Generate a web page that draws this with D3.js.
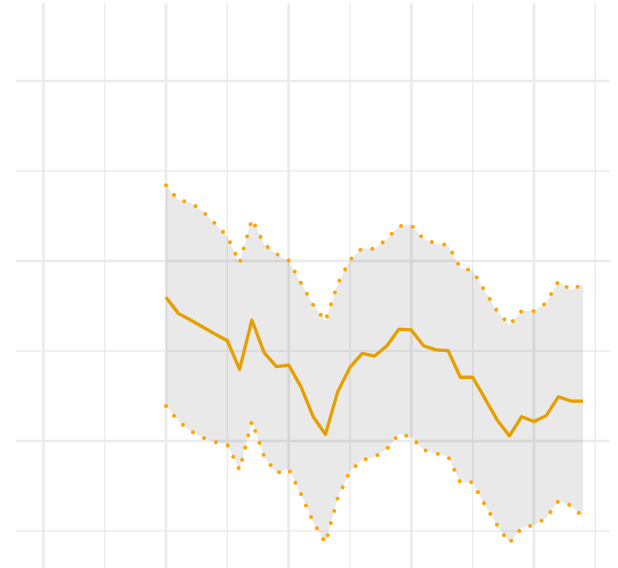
<!DOCTYPE html>
<html>
<head>
<meta charset="utf-8">
<script src="https://cdn.jsdelivr.net/npm/d3@7"></script>
<style>
  html, body { margin: 0; padding: 0; background: #fff; }
  svg { display: block; }
</style>
</head>
<body>
<svg id="chart" width="618" height="568"></svg>
<script>
// ---- data ----
const years = d3.range(2000, 2035);
const estimate = [1.798,1.709,1.672,1.633,1.594,1.557,1.398,1.672,1.491,1.413,1.422,1.302,1.135,1.037,1.274,1.409,1.487,1.472,1.528,1.622,1.617,1.529,1.506,1.502,1.354,1.354,1.237,1.117,1.028,1.135,1.108,1.141,1.246,1.222,1.222];
const upper = [2.421,2.339,2.325,2.275,2.208,2.136,1.989,2.233,2.094,2.039,2.003,1.878,1.756,1.667,1.872,2.006,2.072,2.067,2.122,2.194,2.2,2.122,2.097,2.089,1.961,1.947,1.833,1.722,1.645,1.722,1.722,1.767,1.889,1.839,1.872];
const lower = [1.194,1.111,1.056,1.019,0.994,0.981,0.839,1.111,0.914,0.822,0.844,0.706,0.55,0.433,0.683,0.833,0.894,0.911,0.956,1.039,1.022,0.95,0.931,0.914,0.768,0.771,0.644,0.533,0.433,0.517,0.533,0.572,0.667,0.642,0.578];
const xMajorTicks = [1990, 2000, 2010, 2020, 2030];
const xMinorTicks = [1995, 2005, 2015, 2025, 2035];
const yMajorTicks = [1, 2, 3];
const yMinorTicks = [0.5, 1.5, 2.5];

// ---- layout ----
const svg = d3.select("#chart");
const pLeft = 16, pRight = 610, pTop = 3, pBottom = 568;

const x = d3.scaleLinear().domain([1987.77, 2036.2]).range([pLeft, pRight]);
const y = d3.scaleLinear().domain([0.2944, 3.4333]).range([pBottom, pTop]);

const grid = svg.append("g");
const gridColor = "#ebebeb";

function hLines(ticks, w) {
  grid.append("g").selectAll("line").data(ticks).join("line")
    .attr("x1", pLeft).attr("x2", pRight)
    .attr("y1", d => y(d)).attr("y2", d => y(d))
    .attr("stroke", gridColor).attr("stroke-width", w);
}
function vLines(ticks, w) {
  grid.append("g").selectAll("line").data(ticks).join("line")
    .attr("y1", pTop).attr("y2", pBottom)
    .attr("x1", d => x(d)).attr("x2", d => x(d))
    .attr("stroke", gridColor).attr("stroke-width", w);
}
hLines(yMinorTicks, 1.35);
vLines(xMinorTicks, 1.35);
hLines(yMajorTicks, 2.7);
vLines(xMajorTicks, 2.7);

const rows = years.map((yr, i) => ({ yr, est: estimate[i], lo: lower[i], hi: upper[i] }));

// ribbon
svg.append("path")
  .datum(rows)
  .attr("d", d3.area().x(d => x(d.yr)).y0(d => y(d.lo)).y1(d => y(d.hi)))
  .attr("fill", "#000").attr("fill-opacity", 0.085);

// dotted bounds
["hi", "lo"].forEach(k => {
  svg.append("path")
    .datum(rows)
    .attr("d", d3.line().x(d => x(d.yr)).y(d => y(d[k])))
    .attr("fill", "none")
    .attr("stroke", "#FFA500")
    .attr("stroke-width", 3.9)
    .attr("stroke-linecap", "round")
    .attr("stroke-dasharray", "0.01 12.6");
});

// estimate line
svg.append("path")
  .datum(rows)
  .attr("d", d3.line().x(d => x(d.yr)).y(d => y(d.est)))
  .attr("fill", "none")
  .attr("stroke", "#E69F00")
  .attr("stroke-width", 3.3)
  .attr("stroke-linejoin", "round");
</script>
</body>
</html>
